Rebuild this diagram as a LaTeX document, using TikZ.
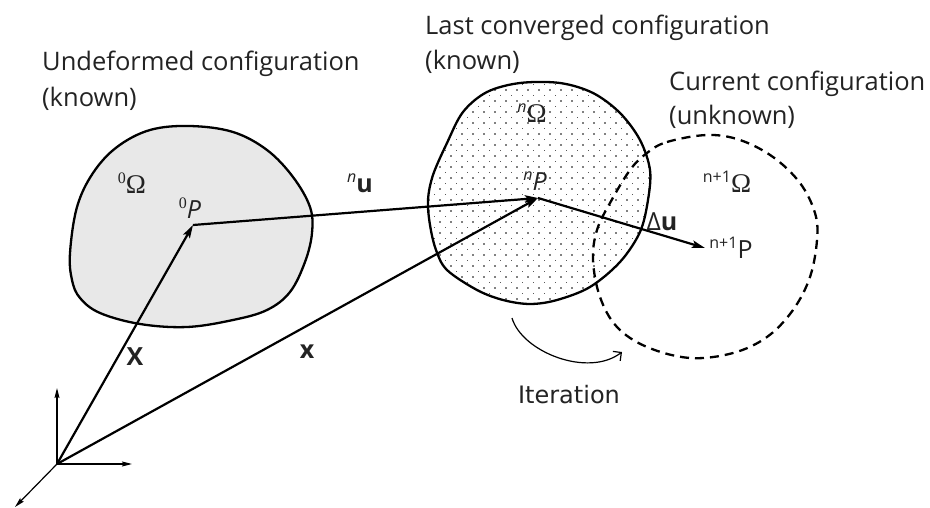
\documentclass[tikz,border=0pt]{standalone}
\usepackage{fontspec}
\setmainfont{Open Sans}
\newfontfamily\serifont{Liberation Serif}
\newfontfamily\iterfont{DejaVu Sans}
\usetikzlibrary{arrows.meta,patterns.meta}
\definecolor{txt}{RGB}{35,35,35}
\definecolor{fillgrey}{RGB}{232,232,232}
\newcommand{\supr}[1]{\raisebox{0.42em}{\fontsize{16}{16}\selectfont #1}}
\begin{document}
\begin{tikzpicture}[x=1pt,y=-1pt,
 outline/.style={line width=2.3pt, line join=round},
 vec/.style={line width=2.2pt, -{Stealth[length=13pt,width=7.5pt,inset=2.5pt]}},
 axisarrow/.style={line width=1.2pt, -{Stealth[length=10pt,width=5pt,inset=1.5pt]}},
 ttl/.style={anchor=base west, inner sep=0pt, text=txt, font=\fontsize{25.5}{30}\selectfont},
 lbl/.style={inner sep=0pt, text=txt, font=\fontsize{25}{28}\selectfont},
]
\useasboundingbox (0,0) rectangle (930,508);

% undeformed configuration
\draw[outline, fill=fillgrey] plot[smooth cycle, tension=0.6] coordinates {
 (70,253) (77,207) (93,173) (117,147) (150,130) (190,126) (233,132) (267,150)
 (293,177) (310,207) (312,233) (305,262) (290,292) (267,310) (233,320) (187,327)
 (140,324) (100,313) (80,298) (72,280)};

% last converged configuration
\path[save path=\shpB] plot[smooth cycle, tension=0.55] coordinates {
 (428,200) (433,175) (447,143) (463,112) (487,92) (520,83) (560,83) (593,93)
 (620,113) (640,140) (650,170) (648,200) (640,232) (620,262) (590,287) (557,300)
 (530,304) (503,300) (477,290) (447,270) (436,250) (430,225)};
\fill[use path=\shpB, pattern={Dots[distance=11pt,radius=0.8pt]}];
\fill[use path=\shpB, pattern={Dots[distance=11pt,radius=0.45pt,xshift=5.5pt,yshift=5.5pt]}];
\draw[outline, use path=\shpB];

% current configuration
\draw[line width=2.3pt, dash pattern=on 9pt off 6pt] plot[smooth cycle, tension=0.6] coordinates {
 (647,153) (667,142) (707,135) (740,140) (773,157) (800,183) (815,213) (817,240)
 (810,277) (793,310) (767,337) (733,353) (690,358) (647,347) (617,327) (600,297)
 (593,260) (597,230) (610,203) (630,170)};

% points
\coordinate (O) at (57,464);
\coordinate (P0) at (193,225);
\coordinate (Pn) at (538,198);
\coordinate (Pn1) at (705,248);
\coordinate (ex) at (132,464);
\coordinate (ey) at (57,388);
\coordinate (ez) at (15,507);
\coordinate (itA) at (512,318);
\coordinate (itB) at (622,352);

% vectors
\draw[vec] (O) -- (P0);
\draw[vec] (O) -- (Pn);
\draw[vec] (P0) -- (Pn);
\draw[vec] (Pn) -- (Pn1);

% axes
\draw[axisarrow] (O) -- (ex);
\draw[axisarrow] (O) -- (ey);
\draw[axisarrow] (O) -- (ez);

% iteration arc
\draw[line width=1.2pt, -{Straight Barb[length=6pt,width=12pt]}] (itA) .. controls (522,352) and (588,378) .. (itB);

% titles
\node[ttl] (t1a) at (42,71) {Undeformed configuration};
\node[ttl] (t1b) at (42,107) {(known)};
\node[ttl] (t2a) at (425,35) {Last converged configuration};
\node[ttl] (t2b) at (425,70) {(known)};
\node[ttl] (t3a) at (669,91) {Current configuration};
\node[ttl] (t3b) at (669,125) {(unknown)};

% labels
\node[lbl] (lO0) at (132,183) {\serifont\supr{0}\fontsize{27}{28}\selectfont Ω};
\node[lbl] (lP0) at (190,208) {{\serifont\supr{0}}\itshape P};
\node[lbl] (lu) at (360,183) {{\itshape\supr{n}}\textbf{u}};
\node[lbl] (lOn) at (532,113) {{\itshape\supr{n}}{\serifont\fontsize{27}{28}\selectfont Ω}};
\node[lbl] (lPn) at (535,181) {{\itshape\supr{n}}\itshape P};
\node[lbl] (lOn1) at (727,182) {\supr{n+1}{\serifont\fontsize{27}{28}\selectfont Ω}};
\node[lbl] (ldu) at (662,222) {Δ\textbf{u}};
\node[lbl] (lPn1) at (731,248) {\supr{n+1}P};
\node[lbl] (lX) at (135,357) {\textbf{X}};
\node[lbl] (lx) at (307,352) {\textbf{x}};
\node[lbl, font=\iterfont\fontsize{24}{28}\selectfont] (lit) at (569,395) {Iteration};
\end{tikzpicture}
\end{document}
